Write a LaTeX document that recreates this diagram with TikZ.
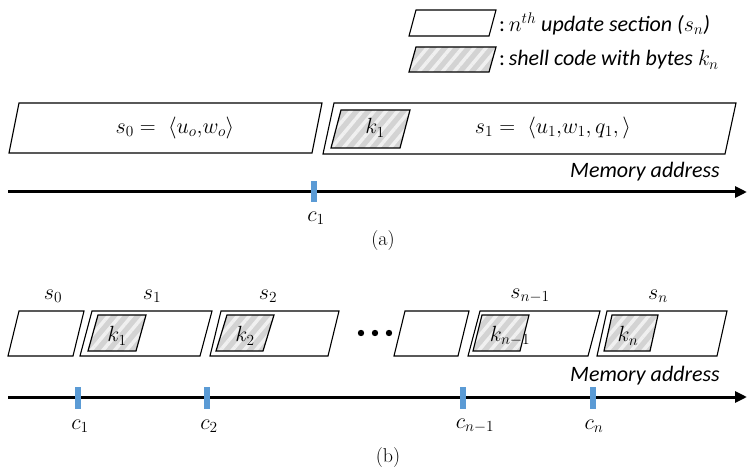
\RequirePackage{fix-cm}
\documentclass[tikz,border=0pt]{standalone}
\usepackage{fontspec}
\newfontfamily\calfont{Carlito}
\usetikzlibrary{patterns.meta,arrows.meta}
\definecolor{tickblue}{HTML}{5B9BD5}
\definecolor{hatchgray}{HTML}{D3D3D3}
\definecolor{hatchlight}{HTML}{F0F0F0}
\newcommand\pg[6]{\path[#1] ({#2+#6},#4) -- ({#3+#6},#4) -- (#3,#5) -- (#2,#5) -- cycle;}
\tikzset{
  secbox/.style={draw=black, line width=1.1pt, fill=white},
  codebox/.style={fill=hatchgray,
     postaction={pattern={Lines[angle=50,distance=9pt,line width=3.5pt]}, pattern color=hatchlight},
     postaction={draw=black, line width=1.2pt}},
  axisline/.style={line width=3pt, -{Triangle[length=12pt,width=11pt]}},
  tickmark/.style={draw=none, fill=tickblue},
  mlab/.style={font=\fontsize{22}{26}\selectfont, inner sep=0pt},
  tlab/.style={font=\calfont\itshape\fontsize{22}{26}\selectfont, inner sep=0pt},
  captext/.style={font=\fontsize{20}{24}\selectfont, inner sep=0pt},
}
\begin{document}
\begin{tikzpicture}[x=1pt,y=-1pt]
\useasboundingbox (0,0) rectangle (747,473);
% legend
\pg{secbox}{409}{489}{10}{36}{7}
\pg{codebox}{409}{489}{47}{72}{7}
\node[tlab, anchor=west] (leg1) at (499,24) {\upshape:\,\itshape$n^{th}$ update section ($s_n$)};
\node[tlab, anchor=west] (leg2) at (499,60) {\upshape:\,\itshape shell code with bytes $k_n$};
% (a)
\pg{secbox}{9}{312}{103}{153}{10}
\pg{secbox}{323}{725}{103}{154}{11}
\pg{codebox}{331}{400}{110}{148}{10}
\node[mlab] (as0) at (175,128) {$s_0 =\;\langle u_o,\!w_o\rangle$};
\node[mlab] (ak1) at (375,128) {$k_1$};
\node[mlab] (as1) at (553,128) {$s_1 =\;\langle u_1,\!w_1,q_1,\rangle$};
\coordinate (a0) at (8,192);
\coordinate (a1) at (747,192);
\draw[axisline] (a0) -- (a1);
\node[tlab, anchor=east] (amem) at (720,172) {Memory address};
\path[tickmark] (311,181) rectangle (317,202);
\node[mlab] (ac1) at (316,218) {$c_1$};
\node[captext] (acap) at (383,241) {(a)};
% (b)
\pg{secbox}{8}{73}{311}{356}{11}
\pg{secbox}{80}{200}{311}{356}{12}
\pg{codebox}{88}{136}{315}{351}{10}
\pg{secbox}{210}{328}{311}{356}{11}
\pg{codebox}{216}{263}{315}{351}{11}
\pg{secbox}{394}{458}{311}{356}{11}
\pg{secbox}{468}{588}{311}{356}{12}
\pg{codebox}{473}{520}{315}{351}{9}
\pg{secbox}{597}{717}{311}{356}{10}
\pg{codebox}{604}{650}{315}{351}{8}
\node[mlab] (bs0) at (53,296) {$s_0$};
\node[mlab] (bs1) at (152,296) {$s_1$};
\node[mlab] (bs2) at (268,296) {$s_2$};
\node[mlab] (bsn1) at (530,296) {$s_{n-1}$};
\node[mlab] (bsn) at (658,296) {$s_n$};
\node[mlab] (bk1) at (117,336) {$k_1$};
\node[mlab] (bk2) at (245,336) {$k_2$};
\node[mlab] (bkn1) at (510,336) {$k_{n-1}$};
\node[mlab] (bkn) at (628,336) {$k_n$};
\foreach \x in {361,375,389} \fill (\x,333) circle (3.2);
\coordinate (b0) at (8,397);
\coordinate (b1) at (747,397);
\draw[axisline] (b0) -- (b1);
\node[tlab, anchor=east] (bmem) at (720,376) {Memory address};
\foreach \x in {78,207,463,593} \path[tickmark] (\x-3,387) rectangle (\x+3,409);
\node[mlab] (bc1) at (80,426) {$c_1$};
\node[mlab] (bc2) at (209,426) {$c_2$};
\node[mlab] (bcn1) at (475,426) {$c_{n-1}$};
\node[mlab] (bcn) at (594,426) {$c_n$};
\node[captext] (bcap) at (388,458) {(b)};
\end{tikzpicture}
\end{document}
